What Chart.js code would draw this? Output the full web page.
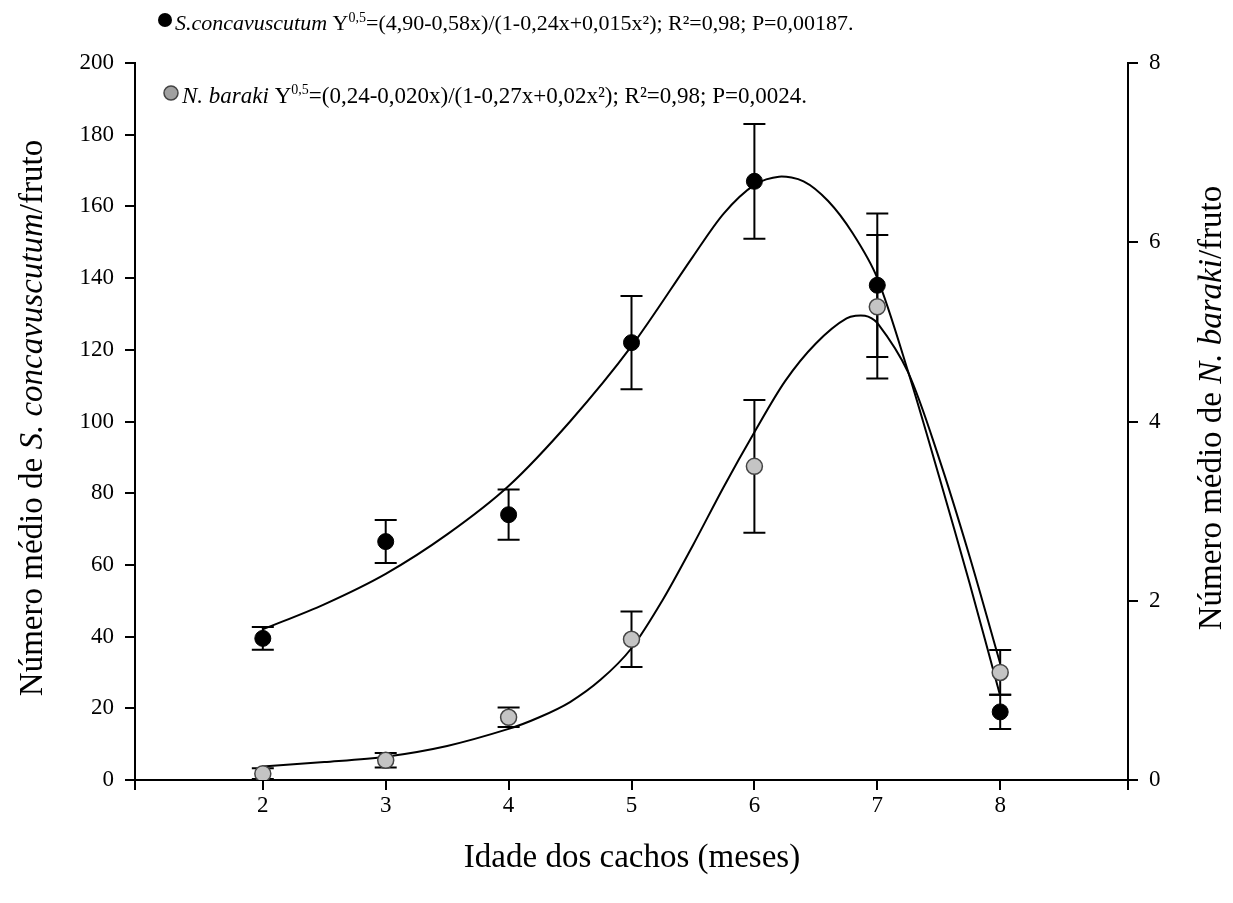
<!DOCTYPE html>
<html>
<head>
<meta charset="utf-8">
<script src="https://cdn.jsdelivr.net/npm/chart.js@4.4.1/dist/chart.umd.min.js"></script>
<style>
  html, body { margin: 0; padding: 0; background: #fff; }
</style>
</head>
<body>
<canvas id="chart" width="1233" height="903"></canvas>
<script>
// months (x) and observed means +/- error
const months = [2, 3, 4, 5, 6, 7, 8];
const scMean = [39.5, 66.5, 74, 122, 167, 138, 19];
const scErr  = [3.2, 6, 7, 13, 16, 20, 4.8];
const nbMean = [0.07, 0.22, 0.7, 1.57, 3.5, 5.28, 1.2];
const nbErr  = [0.06, 0.08, 0.11, 0.31, 0.74, 0.8, 0.25];

// fitted curves
const scFitX = [2, 2.5, 3, 3.5, 4, 4.5, 5, 5.5, 5.75, 6, 6.2, 6.4, 6.6, 6.8, 7, 7.25, 7.5, 7.75, 8];
const scFitY = [42, 49, 57.5, 68.5, 82, 100, 121, 146, 158, 166, 168.3, 167, 161.5, 152.5, 140, 114, 85, 55, 23.5];
const nbFitX = [2, 2.5, 3, 3.5, 4, 4.25, 4.5, 4.75, 5, 5.25, 5.5, 5.75, 6, 6.25, 6.5, 6.75, 6.9, 7, 7.25, 7.5, 7.75, 8];
const nbFitY = [0.15, 0.2, 0.26, 0.38, 0.57, 0.7, 0.87, 1.12, 1.47, 2.0, 2.62, 3.27, 3.88, 4.45, 4.87, 5.15, 5.18, 5.1, 4.55, 3.6, 2.5, 1.3];

// axes
const xMin = 0.96, xMax = 9.04;
const xTicks = [0.96, 2, 3, 4, 5, 6, 7, 8, 9.04];
const xLabels = [2, 3, 4, 5, 6, 7, 8];
const leftMax = 200, leftStep = 20;
const rightMax = 8, rightStep = 2;

const legendLines = [
  [{t: 'S.concavuscutum', it: true}, {t: ' Y'}, {t: '0,5', sup: true}, {t: '=(4,90-0,58x)/(1-0,24x+0,015x²); R²=0,98; P=0,00187.'}],
  [{t: 'N. baraki', it: true}, {t: ' Y'}, {t: '0,5', sup: true}, {t: '=(0,24-0,020x)/(1-0,27x+0,02x²); R²=0,98; P=0,0024.'}]
];
const leftTitle = [{t: 'Número médio de '}, {t: 'S. concavuscutum', it: true}, {t: '/fruto'}];
const rightTitle = [{t: 'Número médio de '}, {t: 'N. baraki', it: true}, {t: '/fruto'}];
const bottomTitle = [{t: 'Idade dos cachos (meses)'}];

const FONT = '"Liberation Serif", "Times New Roman", serif';
const GREY = '#c4c4c4';

function drawRuns(ctx, runs, x, y, size, align) {
  const fontOf = r => (r.it ? 'italic ' : '') + (r.sup ? Math.round(size * 0.62) : size) + 'px ' + FONT;
  let total = 0;
  runs.forEach(r => { ctx.font = fontOf(r); r.w = ctx.measureText(r.t).width; total += r.w; });
  let cx = align === 'center' ? x - total / 2 : x;
  runs.forEach(r => {
    ctx.font = fontOf(r);
    ctx.fillText(r.t, cx, r.sup ? y - size * 0.38 : y);
    cx += r.w;
  });
  return total;
}

function drawBars(ctx, xs, means, errs, yScale, xScale) {
  xs.forEach((m, i) => {
    const x = xScale.getPixelForValue(m);
    const yt = yScale.getPixelForValue(means[i] + errs[i]);
    const yb = yScale.getPixelForValue(Math.max(0, means[i] - errs[i]));
    ctx.beginPath();
    ctx.moveTo(x, yt); ctx.lineTo(x, yb);
    ctx.moveTo(x - 11, yt); ctx.lineTo(x + 11, yt);
    ctx.moveTo(x - 11, yb); ctx.lineTo(x + 11, yb);
    ctx.stroke();
  });
}

const errorBars = {
  id: 'errorBars',
  beforeDatasetsDraw(chart) {
    const ctx = chart.ctx;
    ctx.save();
    ctx.strokeStyle = '#000';
    ctx.lineWidth = 2;
    drawBars(ctx, months, scMean, scErr, chart.scales.y, chart.scales.x);
    drawBars(ctx, months, nbMean, nbErr, chart.scales.y2, chart.scales.x);
    ctx.restore();
  }
};

const texts = {
  id: 'texts',
  afterDraw(chart) {
    const ctx = chart.ctx;
    ctx.save();
    ctx.fillStyle = '#000';
    ctx.textBaseline = 'alphabetic';

    // legend
    ctx.beginPath(); ctx.arc(165, 20, 7, 0, Math.PI * 2); ctx.fillStyle = '#000'; ctx.fill();
    drawRuns(ctx, legendLines[0], 175, 30, 22, 'left');
    ctx.beginPath(); ctx.arc(171, 93, 7, 0, Math.PI * 2); ctx.fillStyle = '#a0a0a0'; ctx.fill();
    ctx.lineWidth = 1.5; ctx.strokeStyle = '#444'; ctx.stroke();
    ctx.fillStyle = '#000';
    drawRuns(ctx, legendLines[1], 182, 103, 23, 'left');

    // axis titles
    ctx.textBaseline = 'middle';
    drawRuns(ctx, bottomTitle, 632, 858, 33, 'center');
    ctx.save(); ctx.translate(33, 418); ctx.rotate(-Math.PI / 2);
    drawRuns(ctx, leftTitle, 0, 0, 33, 'center');
    ctx.restore();
    ctx.save(); ctx.translate(1212, 408); ctx.rotate(-Math.PI / 2);
    drawRuns(ctx, rightTitle, 0, 0, 33, 'center');
    ctx.restore();
    ctx.restore();
  }
};

const axisGrid = {drawOnChartArea: false, drawTicks: true, tickLength: 10, color: '#000', lineWidth: 2};
const axisBorder = {color: '#000', width: 2};
const tickFont = {family: FONT, size: 23};

new Chart(document.getElementById('chart'), {
  type: 'line',
  data: {
    datasets: [
      {
        label: 'S. concavuscutum',
        data: months.map((m, i) => ({x: m, y: scMean[i]})),
        yAxisID: 'y', showLine: false,
        pointRadius: 8, pointBackgroundColor: '#000', pointBorderColor: '#000', pointBorderWidth: 1,
        order: 1
      },
      {
        label: 'N. baraki',
        data: months.map((m, i) => ({x: m, y: nbMean[i]})),
        yAxisID: 'y2', showLine: false,
        pointRadius: 8, pointBackgroundColor: GREY, pointBorderColor: '#444', pointBorderWidth: 1.5,
        order: 0
      },
      {
        label: 'fit S',
        data: scFitX.map((v, i) => ({x: v, y: scFitY[i]})),
        yAxisID: 'y', borderColor: '#000', borderWidth: 2, pointRadius: 0,
        tension: 0.3, fill: false,
        order: 3
      },
      {
        label: 'fit N',
        data: nbFitX.map((v, i) => ({x: v, y: nbFitY[i]})),
        yAxisID: 'y2', borderColor: '#000', borderWidth: 2, pointRadius: 0,
        tension: 0.3, fill: false,
        order: 3
      }
    ]
  },
  options: {
    responsive: false,
    animation: false,
    layout: {padding: {top: 63, left: 0, right: 0, bottom: 0}},
    plugins: {legend: {display: false}, tooltip: {enabled: false}},
    scales: {
      x: {
        type: 'linear', position: 'bottom', min: xMin, max: xMax,
        afterBuildTicks: s => { s.ticks = xTicks.map(v => ({value: v})); },
        afterFit: s => { s.height = 123; },
        grid: axisGrid, border: axisBorder,
        ticks: {
          color: '#000', font: tickFont, padding: 2, maxRotation: 0, autoSkip: false,
          callback: v => xLabels.includes(v) ? String(v) : ''
        }
      },
      y: {
        position: 'left', min: 0, max: leftMax,
        afterFit: s => { s.width = 135; },
        grid: axisGrid, border: axisBorder,
        ticks: {color: '#000', font: tickFont, stepSize: leftStep, padding: 11}
      },
      y2: {
        position: 'right', min: 0, max: rightMax,
        afterFit: s => { s.width = 105; },
        grid: axisGrid, border: axisBorder,
        ticks: {color: '#000', font: tickFont, stepSize: rightStep, padding: 11}
      }
    }
  },
  plugins: [errorBars, texts]
});
</script>
</body>
</html>
